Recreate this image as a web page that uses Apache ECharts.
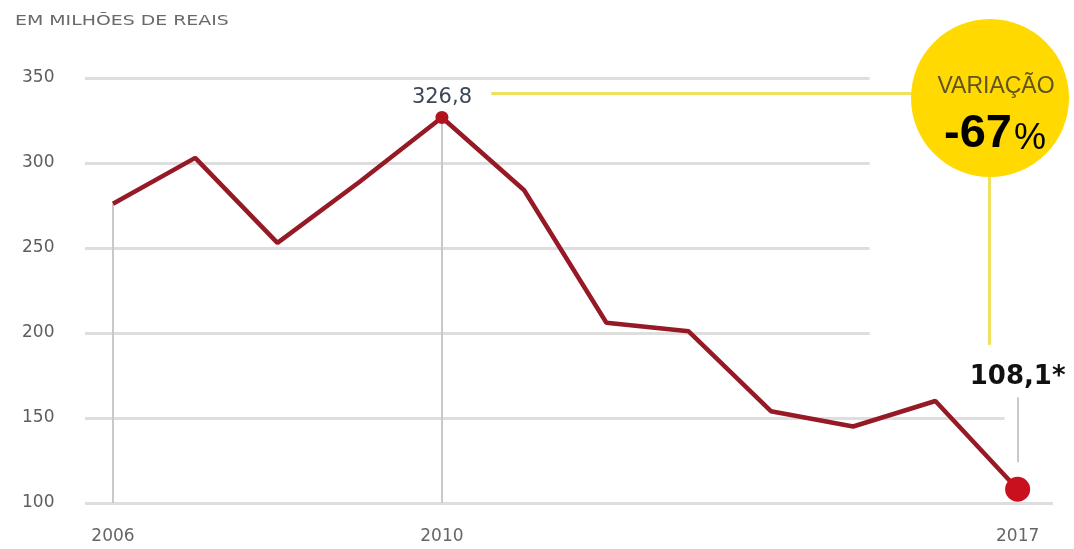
<!DOCTYPE html>
<html>
<head>
<meta charset="utf-8">
<script src="https://cdn.jsdelivr.net/npm/echarts@6/dist/echarts.min.js"></script>
<style>
html,body{margin:0;padding:0;background:#fff;}
#chart{width:1074px;height:549px;}
</style>
</head>
<body>
<div id="chart"></div>
<script>
// ---- data ----
const years = [2006, 2007, 2008, 2009, 2010, 2011, 2012, 2013, 2014, 2015, 2016, 2017];
const values = [276, 303, 253, 289, 326.8, 284, 206, 201, 154, 145, 160, 108.1];
const yTicks = [100, 150, 200, 250, 300, 350];
const xLabelYears = [2006, 2010, 2017];
const titleText = 'EM MILHÕES DE REAIS';
const peakLabel = '326,8';
const lastLabel = '108,1*';
const changeTitle = 'VARIAÇÃO';
const changeValue = '-67';

// axis extents (layout)
const xMin = 2005.66, xMax = 2017.43;
const gridEnds = {100: xMax, 150: 2016.84, 200: 2015.2, 250: 2015.2, 300: 2015.2, 350: 2015.2};

const SANS = 'DejaVu Sans, Liberation Sans, Arial, sans-serif';

const chart = echarts.init(document.getElementById('chart'));

const lineData = years.map((y, i) => {
  const item = { value: [y, values[i]] };
  if (y === 2010) {
    item.symbol = 'circle';
    item.symbolSize = 13;
    item.itemStyle = { color: '#b0141f' };
    item.label = {
      show: true, position: 'top', distance: 3,
      formatter: peakLabel, color: '#3b4656', fontSize: 21,
      fontFamily: SANS
    };
  }
  if (y === 2017) {
    item.symbol = 'circle';
    item.symbolSize = 25;
    item.itemStyle = { color: '#c8101f' };
    item.label = {
      show: true, position: 'top', distance: 86,
      formatter: lastLabel, color: '#111', fontSize: 26, fontWeight: 'bold',
      fontFamily: SANS
    };
  }
  return item;
});

const gridLines = yTicks.map(t => [
  { coord: [xMin, t] },
  { coord: [gridEnds[t], t] }
]);

const dropLines = [
  [{ coord: [2006, values[0]] }, { coord: [2006, 100] }],
  [{ coord: [2010, values[4]] }, { coord: [2010, 100] }],
  [{ coord: [2017, 162] }, { coord: [2017, 124] }]
];

const yellowLines = [
  [{ coord: [2010.6, 341] }, { coord: [2015.9, 341] }],
  [{ coord: [2016.66, 300] }, { coord: [2016.66, 193] }]
];

chart.setOption({
  animation: false,
  backgroundColor: '#fff',
  textStyle: { fontFamily: SANS },
  grid: { left: 85, right: 21, top: 78, bottom: 46, containLabel: false },
  xAxis: {
    type: 'value', min: xMin, max: xMax,
    axisLine: { show: false }, axisTick: { show: false }, splitLine: { show: false },
    axisLabel: {
      customValues: xLabelYears, formatter: v => String(v),
      color: '#666', fontSize: 17, margin: 25, fontFamily: SANS,
      showMinLabel: true, showMaxLabel: true
    }
  },
  yAxis: {
    type: 'value', min: 100, max: 350, interval: 50,
    axisLine: { show: false }, axisTick: { show: false }, splitLine: { show: false },
    axisLabel: { color: '#5e5e5e', fontSize: 17, align: 'left', margin: 63, fontFamily: SANS }
  },
  series: [
    {
      type: 'line', data: [], z: 1, silent: true,
      markLine: {
        silent: true, symbol: 'none', label: { show: false },
        lineStyle: { color: '#dedede', width: 3, type: 'solid' },
        data: gridLines
      }
    },
    {
      type: 'line', data: [], z: 2, silent: true,
      markLine: {
        silent: true, symbol: 'none', label: { show: false },
        lineStyle: { color: '#c9c9c9', width: 2, type: 'solid' },
        data: dropLines
      }
    },
    {
      type: 'line', data: [], z: 2, silent: true,
      markLine: {
        silent: true, symbol: 'none', label: { show: false },
        lineStyle: { color: '#efe060', width: 3, type: 'solid' },
        data: yellowLines
      }
    },
    {
      type: 'line', z: 5,
      data: lineData,
      symbol: 'none',
      lineStyle: { color: '#961a26', width: 4.5 },
      itemStyle: { color: '#961a26' }
    }
  ],
  graphic: [
    {
      type: 'text', x: 15, y: 14, scaleX: 1.35,
      style: { text: titleText, fill: '#6a6a6a', fontSize: 14, fontFamily: SANS }
    },
    {
      type: 'circle', z: 100,
      shape: { cx: 990, cy: 98, r: 79 },
      style: { fill: '#ffd900' }
    },
    {
      type: 'text', z: 101, x: 996, y: 87,
      style: {
        text: changeTitle, fill: '#5f5420', fontSize: 23,
        fontFamily: 'Liberation Sans, Arial, sans-serif',
        align: 'center', verticalAlign: 'middle'
      }
    },
    {
      type: 'text', z: 101, x: 995, y: 134,
      style: {
        text: '{a|' + changeValue + '}{b|%}',
        align: 'center', verticalAlign: 'middle',
        rich: {
          a: { fontSize: 47, fontWeight: 'bold', color: '#1a1a10', fontFamily: 'Liberation Sans, Arial, sans-serif' },
          b: { fontSize: 36, color: '#3d3510', fontFamily: 'Liberation Sans, Arial, sans-serif', padding: [10, 0, 0, 2] }
        }
      }
    }
  ]
});
</script>
</body>
</html>
